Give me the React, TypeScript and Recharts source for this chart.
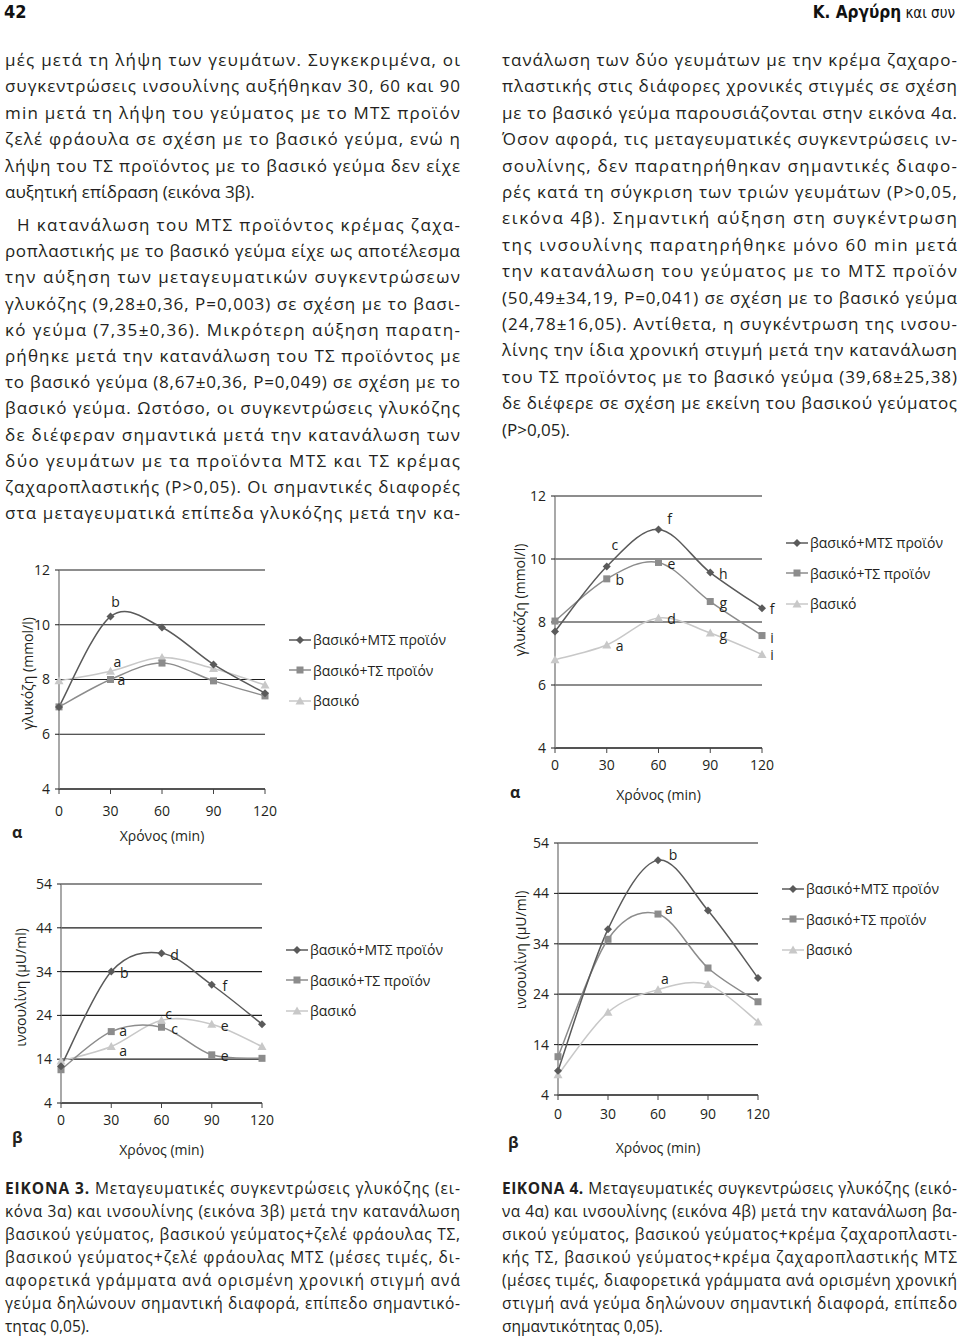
import React from 'react';
import { LineChart, Line, XAxis, YAxis, CartesianGrid, Legend } from 'recharts';

const FONT = '"Open Sans", "Noto Sans", sans-serif';
const HEAD_FONT = '"Liberation Sans Narrow", "DejaVu Sans Condensed", "Open Sans", sans-serif';
const INK = '#231f20';

// time points (min)
const times = [0, 30, 60, 90, 120];
const seriesNames = ['βασικό+ΜΤΣ προϊόν', 'βασικό+ΤΣ προϊόν', 'βασικό'];
const glucoseTicks = [4, 6, 8, 10, 12];
const insulinTicks = [4, 14, 24, 34, 44, 54];

// εικόνα 3α - glucose (mmol/l), strawberry jelly
const glu3Mts = [7.0, 10.3, 9.9, 8.55, 7.5];
const glu3Ts = [7.0, 8.0, 8.6, 7.95, 7.4];
const glu3Basal = [7.95, 8.3, 8.8, 8.4, 7.8];
const glu3MtsNotes = ['', 'b', '', '', ''];
const glu3TsNotes = ['', 'a', '', '', ''];
const glu3BasalNotes = ['', 'a', '', '', ''];

// εικόνα 3β - insulin (μU/ml), strawberry jelly
const ins3Mts = [12.4, 34.0, 38.2, 31.0, 22.0];
const ins3Ts = [11.6, 20.3, 21.3, 15.0, 14.2];
const ins3Basal = [13.6, 16.9, 22.9, 22.0, 16.9];
const ins3MtsNotes = ['', 'b', 'd', 'f', ''];
const ins3TsNotes = ['', 'a', 'c', 'e', ''];
const ins3BasalNotes = ['', 'a', 'c', 'e', ''];

// εικόνα 4α - glucose (mmol/l), pastry cream
const glu4Mts = [7.7, 9.76, 10.94, 9.57, 8.44];
const glu4Ts = [8.03, 9.37, 9.89, 8.65, 7.57];
const glu4Basal = [6.8, 7.27, 8.13, 7.65, 6.97];
const glu4MtsNotes = ['', 'c', 'f', 'h', 'f'];
const glu4TsNotes = ['', 'b', 'e', 'g', 'i'];
const glu4BasalNotes = ['', 'a', 'd', 'g', 'i'];

// εικόνα 4β - insulin (μU/ml), pastry cream
const ins4Mts = [8.8, 36.9, 50.6, 40.6, 27.2];
const ins4Ts = [11.6, 34.9, 39.9, 29.2, 22.5];
const ins4Basal = [8.0, 20.4, 24.9, 25.9, 18.5];
const ins4MtsNotes = ['', '', 'b', '', ''];
const ins4TsNotes = ['', '', 'a', '', ''];
const ins4BasalNotes = ['', '', 'a', '', ''];

const buildRows = (
  mts: number[], ts: number[], basal: number[],
  mtsN: string[], tsN: string[], basalN: string[],
) =>
  times.map((t, i) => ({
    t, mts: mts[i], ts: ts[i], basal: basal[i],
    mtsNote: mtsN[i], tsNote: tsN[i], basalNote: basalN[i],
  }));

// body text
const leftPara1 = [
  'μές μετά τη λήψη των γευμάτων. Συγκεκριμένα, οι',
  'συγκεντρώσεις ινσουλίνης αυξήθηκαν 30, 60 και 90',
  'min μετά τη λήψη του γεύματος με το ΜΤΣ προϊόν',
  'ζελέ φράουλα σε σχέση με το βασικό γεύμα, ενώ η',
  'λήψη του ΤΣ προϊόντος με το βασικό γεύμα δεν είχε',
  'αυξητική επίδραση (εικόνα 3β).',
];
const leftPara2 = [
  'Η κατανάλωση του ΜΤΣ προϊόντος κρέμας ζαχα-',
  'ροπλαστικής με το βασικό γεύμα είχε ως αποτέλεσμα',
  'την αύξηση των μεταγευματικών συγκεντρώσεων',
  'γλυκόζης (9,28±0,36, P=0,003) σε σχέση με το βασι-',
  'κό γεύμα (7,35±0,36). Μικρότερη αύξηση παρατη-',
  'ρήθηκε μετά την κατανάλωση του ΤΣ προϊόντος με',
  'το βασικό γεύμα (8,67±0,36, P=0,049) σε σχέση με το',
  'βασικό γεύμα. Ωστόσο, οι συγκεντρώσεις γλυκόζης',
  'δε διέφεραν σημαντικά μετά την κατανάλωση των',
  'δύο γευμάτων με τα προϊόντα ΜΤΣ και ΤΣ κρέμας',
  'ζαχαροπλαστικής (P>0,05). Οι σημαντικές διαφορές',
  'στα μεταγευματικά επίπεδα γλυκόζης μετά την κα-',
];
const rightLines = [
  'τανάλωση των δύο γευμάτων με την κρέμα ζαχαρο-',
  'πλαστικής στις διάφορες χρονικές στιγμές σε σχέση',
  'με το βασικό γεύμα παρουσιάζονται στην εικόνα 4α.',
  'Όσον αφορά, τις μεταγευματικές συγκεντρώσεις ιν-',
  'σουλίνης, δεν παρατηρήθηκαν σημαντικές διαφο-',
  'ρές κατά τη σύγκριση των τριών γευμάτων (P>0,05,',
  'εικόνα 4β). Σημαντική αύξηση στη συγκέντρωση',
  'της ινσουλίνης παρατηρήθηκε μόνο 60 min μετά',
  'την κατανάλωση του γεύματος με το ΜΤΣ προϊόν',
  '(50,49±34,19, P=0,041) σε σχέση με το βασικό γεύμα',
  '(24,78±16,05). Αντίθετα, η συγκέντρωση της ινσου-',
  'λίνης την ίδια χρονική στιγμή μετά την κατανάλωση',
  'του ΤΣ προϊόντος με το βασικό γεύμα (39,68±25,38)',
  'δε διέφερε σε σχέση με εκείνη του βασικού γεύματος',
  '(P>0,05).',
];
const caption3 = [
  ' Μεταγευματικές συγκεντρώσεις γλυκόζης (ει-',
  'κόνα 3α) και ινσουλίνης (εικόνα 3β) μετά την κατανάλωση',
  'βασικού γεύματος, βασικού γεύματος+ζελέ φράουλας ΤΣ,',
  'βασικού γεύματος+ζελέ φράουλας ΜΤΣ (μέσες τιμές, δι-',
  'αφορετικά γράμματα ανά ορισμένη χρονική στιγμή ανά',
  'γεύμα δηλώνουν σημαντική διαφορά, επίπεδο σημαντικό-',
  'τητας 0,05).',
];
const caption4 = [
  ' Μεταγευματικές συγκεντρώσεις γλυκόζης (εικό-',
  'να 4α) και ινσουλίνης (εικόνα 4β) μετά την κατανάλωση βα-',
  'σικού γεύματος, βασικού γεύματος+κρέμα ζαχαροπλαστι-',
  'κής ΤΣ, βασικού γεύματος+κρέμα ζαχαροπλαστικής ΜΤΣ',
  '(μέσες τιμές, διαφορετικά γράμματα ανά ορισμένη χρονική',
  'στιγμή ανά γεύμα δηλώνουν σημαντική διαφορά, επίπεδο',
  'σημαντικότητας 0,05).',
];

const SERIES = [
  { key: 'basal', name: seriesNames[2], color: '#c8c8c8', shape: 'triangle' },
  { key: 'ts', name: seriesNames[1], color: '#8c8c8c', shape: 'square' },
  { key: 'mts', name: seriesNames[0], color: '#5a5a5a', shape: 'diamond' },
];
const LEGEND_ORDER = ['mts', 'ts', 'basal'];

// where a significance letter sits relative to its point
const NOTE_SHIFT: Record<string, [number, number]> = {
  '3a-mts-1': [5, -15],
  '3a-basal-1': [7, -10],
  '3a-ts-1': [11, 0],
  '3b-ts-1': [12, -1],
  '3b-basal-1': [12, 4],
  '3b-basal-2': [7, -7],
  '4a-mts-1': [8, -22],
  '4a-mts-2': [11, -11],
  '4a-mts-4': [10, 0],
  '4a-ts-4': [10, 2],
  '4a-basal-4': [10, 0],
  '4b-mts-2': [15, -6],
  '4b-ts-2': [11, -6],
  '4b-basal-2': [7, -11],
};

// Excel-like smoothed line (Catmull-Rom through the points)
const excelSmooth: any = (context: any) => {
  let pts: number[][] = [];
  return {
    areaStart() {},
    areaEnd() {},
    lineStart() { pts = []; },
    lineEnd() {
      const n = pts.length;
      if (!n) return;
      context.moveTo(pts[0][0], pts[0][1]);
      for (let i = 0; i < n - 1; i++) {
        const p0 = pts[Math.max(i - 1, 0)];
        const p1 = pts[i];
        const p2 = pts[i + 1];
        const p3 = pts[Math.min(i + 2, n - 1)];
        context.bezierCurveTo(
          p1[0] + (p2[0] - p0[0]) / 6, p1[1] + (p2[1] - p0[1]) / 6,
          p2[0] - (p3[0] - p1[0]) / 6, p2[1] - (p3[1] - p1[1]) / 6,
          p2[0], p2[1],
        );
      }
    },
    point(x: number, y: number) { pts.push([+x, +y]); },
  };
};

const Marker = ({ shape, x, y, color }: { shape: string; x: number; y: number; color: string }) => {
  if (shape === 'diamond') {
    return <path d={`M${x},${y - 4}L${x + 4},${y}L${x},${y + 4}L${x - 4},${y}Z`} fill={color} />;
  }
  if (shape === 'square') {
    return <rect x={x - 3.5} y={y - 3.5} width={7} height={7} fill={color} />;
  }
  return <path d={`M${x},${y - 4.5}L${x + 4.5},${y + 3.5}L${x - 4.5},${y + 3.5}Z`} fill={color} />;
};

const LEGEND_W = 180;
const X_AXIS_H = 40;

const LegendBox = () => (
  <div style={{ width: LEGEND_W, paddingLeft: 24, boxSizing: 'border-box', fontFamily: FONT, fontSize: 14, color: INK }}>
    {LEGEND_ORDER.map((k) => {
      const s = SERIES.find((e) => e.key === k)!;
      return (
        <div key={k} style={{ height: 30.5, display: 'flex', alignItems: 'center', whiteSpace: 'nowrap' }}>
          <svg width={22} height={12} style={{ flex: 'none' }}>
            <line x1={0} y1={6} x2={22} y2={6} stroke={s.color} strokeWidth={1.5} />
            <Marker shape={s.shape} x={11} y={6} color={s.color} />
          </svg>
          <span style={{ marginLeft: 2 }}>{s.name}</span>
        </div>
      );
    })}
  </div>
);

type Spec = {
  id: string;
  left: number; top: number; width: number; height: number;
  yw: number;
  margin: { top: number; right: number; bottom: number; left: number };
  yDomain: [number, number];
  yTicks: number[];
  yTitle: string;
  yTitleX: number; yTitleDy: number;
  xTitleDy: number;
  xTickGap: number;
  legendTop: number;
  rows: any[];
};

const SPECS: Spec[] = [
  {
    id: '3a', left: 0, top: 540, width: 480, height: 310, yw: 59,
    margin: { top: 30, right: 35, bottom: 21, left: 0 },
    yDomain: [4, 12], yTicks: glucoseTicks, yTitle: 'γλυκόζη (mmol/l)',
    yTitleX: 27, yTitleDy: -6, xTitleDy: 46, xTickGap: 12, legendTop: 84.5,
    rows: buildRows(glu3Mts, glu3Ts, glu3Basal, glu3MtsNotes, glu3TsNotes, glu3BasalNotes),
  },
  {
    id: '3b', left: 0, top: 850, width: 480, height: 310, yw: 61,
    margin: { top: 34, right: 38, bottom: 17, left: 0 },
    yDomain: [4, 54], yTicks: insulinTicks, yTitle: 'ινσουλίνη (μU/ml)',
    yTitleX: 20, yTitleDy: -6, xTitleDy: 46, xTickGap: 7, legendTop: 84.5,
    rows: buildRows(ins3Mts, ins3Ts, ins3Basal, ins3MtsNotes, ins3TsNotes, ins3BasalNotes),
  },
  {
    id: '4a', left: 480, top: 480, width: 480, height: 330, yw: 75,
    margin: { top: 16, right: 18, bottom: 22, left: 0 },
    yDomain: [4, 12], yTicks: glucoseTicks, yTitle: 'γλυκόζη (mmol/l)',
    yTitleX: 39, yTitleDy: -22, xTitleDy: 46, xTickGap: 7, legendTop: 47.5,
    rows: buildRows(glu4Mts, glu4Ts, glu4Basal, glu4MtsNotes, glu4TsNotes, glu4BasalNotes),
  },
  {
    id: '4b', left: 480, top: 820, width: 480, height: 340, yw: 78,
    margin: { top: 23, right: 22, bottom: 25, left: 0 },
    yDomain: [4, 54], yTicks: insulinTicks, yTitle: 'ινσουλίνη (μU/ml)',
    yTitleX: 40, yTitleDy: -19, xTitleDy: 52, xTickGap: 9, legendTop: 53.5,
    rows: buildRows(ins4Mts, ins4Ts, ins4Basal, ins4MtsNotes, ins4TsNotes, ins4BasalNotes),
  },
];

const tickStyle = { fill: INK, fontSize: 14, fontFamily: FONT };

const Panel = ({ spec }: { spec: Spec }) => {
  const plotW = spec.width - spec.yw - spec.margin.right - LEGEND_W;
  const plotH = spec.height - spec.margin.top - spec.margin.bottom - X_AXIS_H;
  const yMid = spec.margin.top + plotH / 2 + spec.yTitleDy;
  return (
    <div style={{ position: 'absolute', left: spec.left, top: spec.top }}>
      <LineChart width={spec.width} height={spec.height} data={spec.rows} margin={spec.margin}>
        <CartesianGrid vertical={false} stroke="#1c1c1c" strokeWidth={1.2} />
        <XAxis
          dataKey="t" type="number" domain={[0, 120]} ticks={times} interval={0}
          height={X_AXIS_H} tickSize={5} tickMargin={spec.xTickGap}
          axisLine={{ stroke: '#1c1c1c', strokeWidth: 1.2 }} tickLine={{ stroke: '#444' }}
          tick={tickStyle}
          label={{
            content: () => (
              <text x={spec.yw + plotW / 2} y={spec.margin.top + plotH + spec.xTitleDy}
                textAnchor="middle" dominantBaseline="central" fontSize={14} fontFamily={FONT} fill={INK}>
                Χρόνος (min)
              </text>
            ),
          }}
        />
        <YAxis
          type="number" domain={spec.yDomain} ticks={spec.yTicks} interval={0}
          width={spec.yw} tickSize={4} tickMargin={5}
          axisLine={{ stroke: '#7a7a7a', strokeWidth: 1.3 }} tickLine={{ stroke: '#1c1c1c' }}
          tick={tickStyle}
          label={{
            content: () => (
              <text transform={`translate(${spec.yTitleX},${yMid}) rotate(-90)`}
                textAnchor="middle" dominantBaseline="central" fontSize={14} fontFamily={FONT} fill={INK}>
                {spec.yTitle}
              </text>
            ),
          }}
        />
        <Legend
          layout="vertical" align="right" verticalAlign="top"
          wrapperStyle={{ top: spec.legendTop, width: LEGEND_W }}
          content={() => <LegendBox />}
        />
        {SERIES.map((s) => (
          <Line
            key={s.key}
            dataKey={s.key}
            name={s.name}
            type={excelSmooth}
            stroke={s.color}
            strokeWidth={1.5}
            isAnimationActive={false}
            activeDot={false}
            dot={(p: any) => {
              const note = p.payload ? p.payload[`${s.key}Note`] : '';
              const [dx, dy] = NOTE_SHIFT[`${spec.id}-${s.key}-${p.index}`] || [13, 1];
              return (
                <g key={`${s.key}-${p.index}`}>
                  <Marker shape={s.shape} x={p.cx} y={p.cy} color={s.color} />
                  {note ? (
                    <text x={p.cx + dx} y={p.cy + dy} textAnchor="middle" dominantBaseline="central"
                      fontSize={14} fontFamily={FONT} fill={INK}>
                      {note}
                    </text>
                  ) : null}
                </g>
              );
            }}
          />
        ))}
      </LineChart>
    </div>
  );
};

const LEFT_X = 5;
const RIGHT_X = 502;
const COL_W = 455;
const PITCH = 26.4;

const TextLines = ({
  lines, x, y0, pitch, size, indent = 0, justifyLast = false, head,
}: {
  lines: string[]; x: number; y0: number; pitch: number; size: number;
  indent?: number; justifyLast?: boolean; head?: string;
}) => (
  <g>
    {lines.map((line, i) => {
      const last = i === lines.length - 1;
      const dx = i === 0 ? indent : 0;
      const justify = !last || justifyLast;
      return (
        <text key={i} x={x + dx} y={y0 + i * pitch} fontSize={size} fontFamily={FONT} fill={INK}
          style={{ whiteSpace: 'pre' }}
          {...(justify ? { textLength: COL_W - dx, lengthAdjust: 'spacing' } : {})}>
          {i === 0 && head ? <tspan fontWeight={700}>{head}</tspan> : null}
          {line}
        </text>
      );
    })}
  </g>
);

export default function App() {
  return (
    <div style={{ position: 'absolute', left: 0, top: 0, width: 960, height: 1337, background: '#fff', overflow: 'hidden' }}>
      <svg width={960} height={1337} style={{ position: 'absolute', left: 0, top: 0 }}>
        <text x={4} y={18} fontSize={18} fontWeight={700} fontFamily={HEAD_FONT} fill="#111">42</text>
        <text x={955} y={18} textAnchor="end" fontFamily={HEAD_FONT} fill="#111">
          <tspan fontSize={17} fontWeight={700}>Κ. Αργύρη</tspan>
          <tspan fontSize={15}> και συν</tspan>
        </text>

        <TextLines lines={leftPara1} x={LEFT_X} y0={66} pitch={PITCH} size={17} />
        <TextLines lines={leftPara2} x={LEFT_X} y0={231} pitch={26.2} size={17} indent={12} justifyLast />
        <TextLines lines={rightLines} x={RIGHT_X} y0={66} pitch={PITCH} size={17} />

        <TextLines lines={caption3} x={LEFT_X} y0={1194} pitch={23} size={15.5} head="ΕΙΚΟΝΑ 3." />
        <TextLines lines={caption4} x={RIGHT_X} y0={1194} pitch={23} size={15.5} head="ΕΙΚΟΝΑ 4." />

        <g fontFamily={FONT} fontSize={16} fontWeight={700} fill={INK}>
          <text x={12} y={838}>α</text>
          <text x={12} y={1143}>β</text>
          <text x={510} y={798}>α</text>
          <text x={508} y={1148}>β</text>
        </g>
      </svg>
      {SPECS.map((s) => (
        <Panel key={s.id} spec={s} />
      ))}
    </div>
  );
}
